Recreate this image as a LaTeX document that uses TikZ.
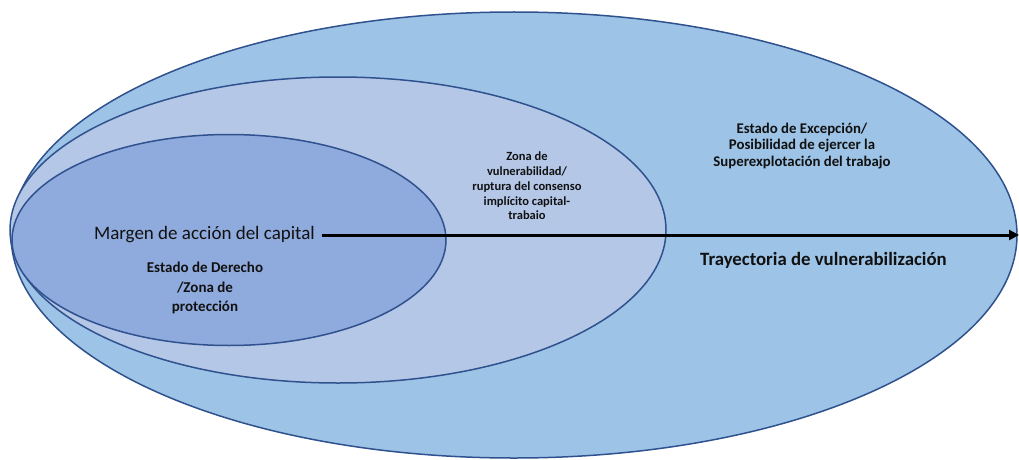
\documentclass[tikz,border=0pt]{standalone}
\usepackage{fontspec}
\setmainfont{Carlito}
\usetikzlibrary{arrows.meta}
\definecolor{outerfill}{HTML}{9DC3E6}
\definecolor{midfill}{HTML}{B4C7E7}
\definecolor{innerfill}{HTML}{8FAADC}
\definecolor{edgeblue}{HTML}{2F528F}
\definecolor{txt}{HTML}{111111}
\tikzset{
  zone/.style={draw=edgeblue, line width=1.5pt},
  lbl/.style={text=txt, align=center, inner sep=0pt},
}
\begin{document}
\begin{tikzpicture}[x=1pt,y=-1pt]
\useasboundingbox (0,0) rectangle (1019,460);
\path[zone, fill=outerfill] (514,235) ellipse [x radius=503pt, y radius=223pt];
\path[zone, fill=midfill] (338,230) ellipse [x radius=328pt, y radius=153pt];
\path[zone, fill=innerfill] (229,240) ellipse [x radius=217pt, y radius=105.5pt];
\node[lbl, font=\fontsize{19}{21}\selectfont, anchor=east] (margen) at (315,235) {Margen de acción del capital};
\coordinate (fin) at (1019,235);
\draw[line width=3pt, -{Triangle[length=10pt,width=10pt]}] ([xshift=7pt]margen.east) -- (fin);
\node[lbl, font=\bfseries\fontsize{15}{19.5}\selectfont] (derecho) at (205,288) {Estado de Derecho\\/Zona de\\protección};
\node[lbl, font=\bfseries\fontsize{12.5}{14.7}\selectfont] (zona) at (527,186) {Zona de\\vulnerabilidad/\\ruptura del consenso\\implícito capital-\\trabaio};
\node[lbl, font=\bfseries\fontsize{14.8}{16.5}\selectfont] (excep) at (802,146) {Estado de Excepción/\\Posibilidad de ejercer la\\Superexplotación del trabajo};
\node[lbl, font=\bfseries\fontsize{18.8}{21}\selectfont, anchor=west] (tray) at (700,260) {Trayectoria de vulnerabilización};
\end{tikzpicture}
\end{document}
